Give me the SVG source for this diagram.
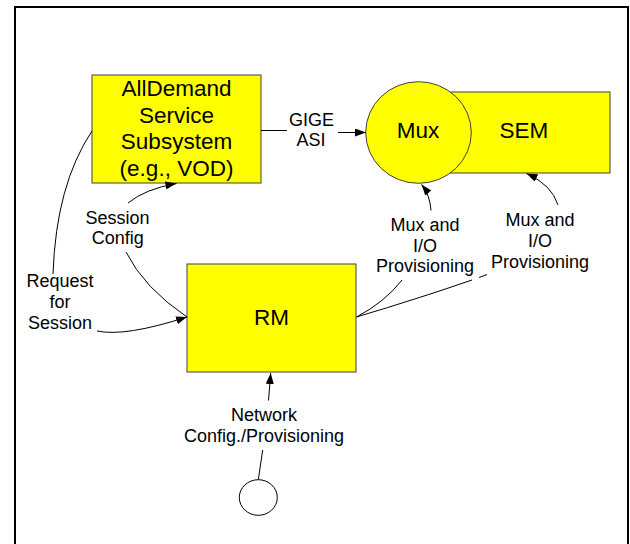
<svg xmlns="http://www.w3.org/2000/svg" width="630" height="544" viewBox="0 0 630 544">
<style>
.box{fill:#ffff00;stroke:#404040;stroke-width:1}
.main{font-family:"Liberation Sans",Arial,sans-serif;font-size:22.5px;fill:#000;text-anchor:middle}
.lbl{font-family:"Liberation Sans",Arial,sans-serif;font-size:18px;fill:#000;text-anchor:middle}
.c{fill:none;stroke:#000;stroke-width:1}
</style>
<defs>
<marker id="ah" markerUnits="userSpaceOnUse" markerWidth="11" markerHeight="8" refX="11" refY="4" orient="auto">
<path d="M0,0 L11,4 L0,8 z" fill="#000"/>
</marker>
</defs>
<rect width="630" height="544" fill="#fff"/>
<path d="M15,544 V7 H628 V544" fill="none" stroke="#000" stroke-width="2"/>

<g id="alldemand">
<rect class="box" x="92" y="75" width="169" height="108"/>
<text class="main" x="176.5" y="96">AllDemand</text>
<text class="main" x="176.5" y="122.5">Service</text>
<text class="main" x="176.5" y="149">Subsystem</text>
<text class="main" x="176.5" y="175.5">(e.g., VOD)</text>
</g>

<g id="sem">
<rect class="box" x="418" y="92" width="192" height="81"/>
<text class="main" x="524" y="138">SEM</text>
</g>

<g id="mux">
<ellipse class="box" cx="418.5" cy="132.5" rx="52.8" ry="50.8"/>
<text class="main" x="418" y="138">Mux</text>
</g>

<g id="rm">
<rect class="box" x="187" y="264" width="169" height="108"/>
<text class="main" x="271.5" y="325">RM</text>
</g>

<g id="source">
<ellipse cx="258.3" cy="497.5" rx="19" ry="17.8" fill="#fff" stroke="#000" stroke-width="1"/>
</g>

<g id="connectors">
<path class="c" d="M261,130.5 L287,130.5"/>
<path class="c" d="M338,132.5 L366,132.5" marker-end="url(#ah)"/>
<path class="c" d="M126,252 Q144,288 187,317"/>
<path class="c" d="M128,203 Q145,189 176.5,183.5" marker-end="url(#ah)"/>
<path class="c" d="M92,131 Q56,185 53,274"/>
<path class="c" d="M97,331 Q125,337 187,317" marker-end="url(#ah)"/>
<path class="c" d="M268.5,400.5 L270.7,373" marker-end="url(#ah)"/>
<path class="c" d="M262.7,450 L258.3,479.7"/>
<path class="c" d="M431,210.5 Q430,195 421.5,184.5" marker-end="url(#ah)"/>
<path class="c" d="M402,280 Q385,302 356.5,317"/>
<path class="c" d="M558,205 Q552,185 526.5,173.5" marker-end="url(#ah)"/>
<path class="c" d="M356.5,317 Q420,298 472,280"/>
<path class="c" d="M479,277.5 L487,274.5"/>
</g>

<g id="labels">
<text class="lbl" x="311.5" y="126">GIGE</text>
<text class="lbl" x="311" y="146">ASI</text>
<text class="lbl" x="117.5" y="224">Session</text>
<text class="lbl" x="117.8" y="244">Config</text>
<text class="lbl" x="60" y="287">Request</text>
<text class="lbl" x="60" y="308">for</text>
<text class="lbl" x="60" y="329">Session</text>
<text class="lbl" x="264" y="421">Network</text>
<text class="lbl" x="264" y="441.7">Config./Provisioning</text>
<text class="lbl" x="425" y="230.7">Mux and</text>
<text class="lbl" x="425" y="251.7">I/O</text>
<text class="lbl" x="425" y="271.7">Provisioning</text>
<text class="lbl" x="540" y="226">Mux and</text>
<text class="lbl" x="540" y="247.3">I/O</text>
<text class="lbl" x="540" y="268">Provisioning</text>
</g>
</svg>
